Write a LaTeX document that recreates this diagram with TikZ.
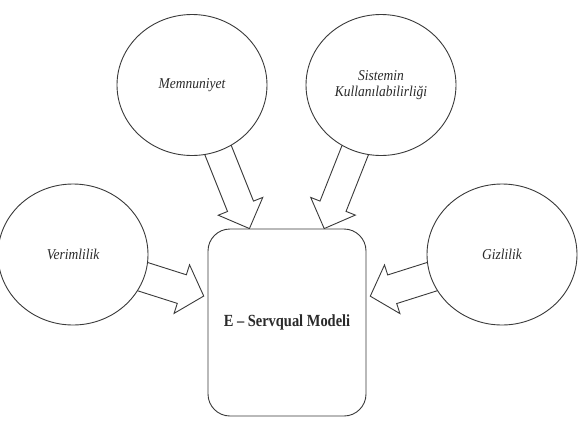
\documentclass[tikz,border=0pt]{standalone}
\usepackage{fontspec}
\setmainfont{Liberation Serif}[FakeStretch=0.9]
\newfontfamily\boxfont{Liberation Serif}[FakeStretch=0.85]
\usetikzlibrary{shapes.geometric,calc,backgrounds}
\definecolor{linec}{HTML}{3A3A3A}
\definecolor{textc}{HTML}{2A2A2A}
\newcommand\mkblockarrow[5]{% tail, tip, half shaft, half head, head length
  \coordinate (ba-base) at ($(#2)!#5!(#1)$);
  \draw[blockarr] ($(#1)!#3!90:(#2)$) -- ($(ba-base)!#3!90:(#2)$)
    -- ($(ba-base)!#4!90:(#2)$) -- (#2) -- ($(ba-base)!#4!-90:(#2)$)
    -- ($(ba-base)!#3!-90:(#2)$) -- ($(#1)!#3!-90:(#2)$) -- cycle;
}
\begin{document}
\begin{tikzpicture}[x=1pt,y=-1pt,
  ell/.style={ellipse, draw=linec, line width=0.9pt, fill=white,
    minimum width=150pt, minimum height=141pt, inner sep=0pt,
    text=textc, font=\fontsize{15}{16.5}\selectfont\itshape, align=center},
  mainbox/.style={rectangle, rounded corners=22pt, draw=linec, line width=0.9pt,
    fill=white, minimum width=158pt, minimum height=187pt, inner sep=0pt,
    text=textc, font=\boxfont\fontsize{17}{20}\selectfont\bfseries},
  blockarr/.style={draw=linec, line width=0.9pt, fill=white, line join=miter}]
\useasboundingbox (0,0) rectangle (581,424);
\node[ell] (mem) at (192,85) {Memnuniyet};
\node[ell] (sis) at (381,85) {Sistemin\\Kullanılabilirliği};
\node[ell] (ver) at (73,254.5) {Verimlilik};
\node[ell] (giz) at (502,254.5) {Gizlilik};
\node[mainbox] (box) at (287,322.5) {E – Servqual Modeli};
\begin{scope}[on background layer]
  \coordinate (tmem) at (intersection of mem--box and box.north west--box.north east);
  \coordinate (tsis) at (intersection of sis--box and box.north west--box.north east);
  \coordinate (tver0) at (intersection of ver--box and box.north west--box.south west);
  \coordinate (tgiz0) at (intersection of giz--box and box.north east--box.south east);
  \coordinate (tver) at ($(tver0)!4pt!(ver)$);
  \coordinate (tgiz) at ($(tgiz0)!4pt!(giz)$);
  \mkblockarrow{mem}{tmem}{14pt}{24pt}{24pt}
  \mkblockarrow{sis}{tsis}{14pt}{24pt}{24pt}
  \mkblockarrow{ver}{tver}{15pt}{25.5pt}{23pt}
  \mkblockarrow{giz}{tgiz}{15pt}{25.5pt}{23pt}
\end{scope}
\end{tikzpicture}
\end{document}
